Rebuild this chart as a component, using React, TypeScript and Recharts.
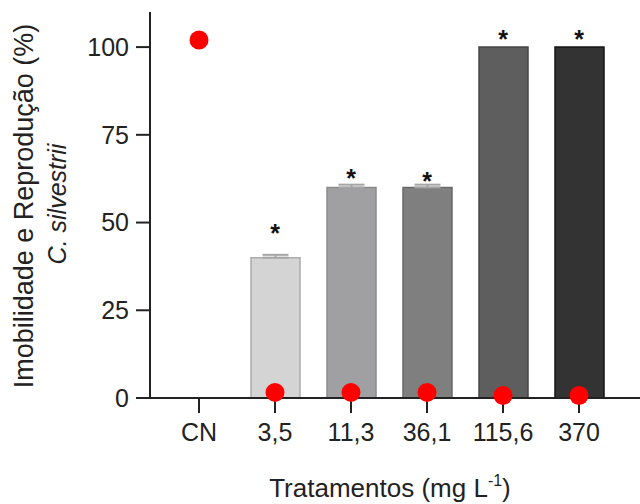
import React from "react"
import {
  ComposedChart,
  Bar,
  Cell,
  ErrorBar,
  Scatter,
  XAxis,
  YAxis,
  Label,
} from "recharts"

// treatments (mg L-1)
const categories = ["CN", "3,5", "11,3", "36,1", "115,6", "370"]
// immobility (%) - bars
const immobility = [0, 40, 60, 60, 100, 100]
// upper error of each bar (null = none drawn)
const errUp = [null, 0.8, 0.8, 0.8, null, null]
// reproduction (%) - red dots
const reproduction = [102, 1.6, 1.6, 1.6, 0.7, 0.7]
// where the significance asterisks sit
const starY = [null, 48.4, 64.1, 63.2, 103.7, 103.7]
const yTicks = [0, 25, 50, 75, 100]

const FILLS = ["#ffffff", "#d4d4d4", "#a0a0a3", "#7f7f7f", "#5e5e5e", "#333333"]
const STROKES = ["none", "#ababab", "#8a8a8a", "#6a6a6a", "#454545", "#151515"]

const FONT = "'Liberation Sans', Arial, sans-serif"
const AXIS = "#222222"

const data = categories.map((cat, i) => ({
  cat,
  imm: immobility[i],
  err: errUp[i] == null ? null : [0, errUp[i]],
  rep: reproduction[i],
  star: starY[i],
}))

export default function App() {
  return (
    <div style={{ position: "absolute", left: 0, top: 0, fontFamily: FONT }}>
      <ComposedChart
        width={640}
        height={504}
        data={data}
        margin={{ top: 12, right: 0, bottom: 46, left: 0 }}
      >
        <XAxis
          dataKey="cat"
          height={60}
          padding={{ left: 11, right: 23 }}
          tickSize={15}
          tickMargin={10}
          tick={{ fill: AXIS, fontSize: 25, fontFamily: FONT }}
          axisLine={{ stroke: AXIS, strokeWidth: 2 }}
          tickLine={{ stroke: AXIS, strokeWidth: 2 }}
        >
          <Label
            content={() => (
              <text
                x={390}
                y={497}
                textAnchor="middle"
                fontSize={26}
                fontFamily={FONT}
                fill={AXIS}
              >
                Tratamentos (mg L
                <tspan fontSize={16} dy={-11}>
                  -1
                </tspan>
                <tspan dy={11}>)</tspan>
              </text>
            )}
          />
        </XAxis>
        <YAxis
          width={150}
          domain={[0, 110]}
          ticks={yTicks}
          tickSize={14}
          tickMargin={7}
          tick={{ fill: AXIS, fontSize: 25, fontFamily: FONT }}
          axisLine={{ stroke: AXIS, strokeWidth: 2 }}
          tickLine={{ stroke: AXIS, strokeWidth: 2 }}
        >
          <Label
            content={() => (
              <g fill={AXIS} fontFamily={FONT}>
                <text
                  transform="translate(33,206) rotate(-90)"
                  textAnchor="middle"
                  fontSize={27}
                >
                  Imobilidade e Reprodução (%)
                </text>
                <text
                  transform="translate(66,204) rotate(-90)"
                  textAnchor="middle"
                  fontSize={25}
                  fontStyle="italic"
                >
                  C. silvestrii
                </text>
              </g>
            )}
          />
        </YAxis>
        <Bar dataKey="imm" barSize={49} strokeWidth={1.5} isAnimationActive={false}>
          {data.map((_, i) => (
            <Cell key={`c-${i}`} fill={FILLS[i]} stroke={STROKES[i]} />
          ))}
          <ErrorBar dataKey="err" width={13} stroke="#a5a5a5" strokeWidth={2} />
        </Bar>
        <Scatter
          dataKey="rep"
          isAnimationActive={false}
          shape={(p: any) => <circle cx={p.cx} cy={p.cy} r={9.5} fill="#ff0000" />}
        />
        <Scatter
          dataKey="star"
          isAnimationActive={false}
          shape={(p: any) =>
            p.cy == null ? <g /> : (
              <text
                x={p.cx}
                y={p.cy + 14}
                textAnchor="middle"
                fontSize={25}
                fontWeight="bold"
                fontFamily={FONT}
                fill="#111"
              >
                *
              </text>
            )
          }
        />
      </ComposedChart>
    </div>
  )
}
